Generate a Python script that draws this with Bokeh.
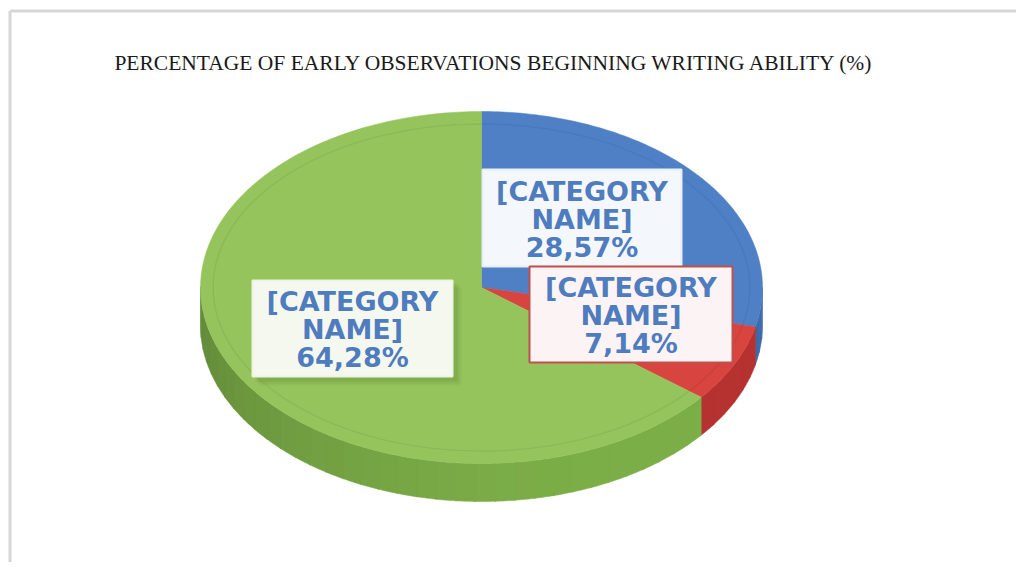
import numpy as np
from bokeh.plotting import figure
from bokeh.models import Range1d
from bokeh.core.properties import value
from bokeh.embed import file_html
from bokeh.resources import INLINE

# ---- data ----
title_text = "PERCENTAGE OF EARLY OBSERVATIONS BEGINNING WRITING ABILITY (%)"
categories = ["[CATEGORY NAME]", "[CATEGORY NAME]", "[CATEGORY NAME]"]
values = [28.57, 7.14, 64.28]
value_labels = ["28,57%", "7,14%", "64,28%"]
top_colors = ["#4f80c6", "#d8443f", "#95c45c"]
side_colors = ["#3c69aa", "#b63230", "#7cae48"]

W, H = 1016, 562
p = figure(width=W, height=H, x_range=Range1d(0, W), y_range=Range1d(H, 0),
           output_backend="svg", toolbar_location=None, min_border=0,
           x_axis_type=None, y_axis_type=None)
p.grid.visible = False
p.outline_line_color = None
p.background_fill_color = "white"
p.border_fill_color = "white"

# frame lines (left / top, as in the reference crop)
p.line([9.5, 9.5], [H, 10.5], line_color="#d6d6d6", line_width=3)
p.line([9.5, W], [10.5, 10.5], line_color="#d6d6d6", line_width=3)

# ---- pie geometry (screen coords, y downward) ----
cx, cy, rx, ry, depth = 481, 287, 281, 176, 38
vals = np.array(values, dtype=float)
fr = vals / vals.sum()
edges = -90 + np.concatenate([[0], np.cumsum(fr) * 360])


def shade(hexcol, f):
    h = hexcol.lstrip("#")
    r, g, b = (int(h[i:i + 2], 16) for i in (0, 2, 4))
    return "#%02x%02x%02x" % tuple(max(0, min(255, int(c * f))) for c in (r, g, b))


# sides (visible for angles 0..180)
sx, sy, sc = [], [], []
for i in range(len(vals)):
    a0, a1 = edges[i], edges[i + 1]
    for off in (0, 360, -360):
        b0, b1 = max(a0 + off, 0), min(a1 + off, 180)
        if b1 > b0:
            nb = max(1, int((b1 - b0) / 4))
            bounds = np.linspace(b0, b1, nb + 1)
            for k in range(nb):
                t = np.radians(np.linspace(bounds[k], bounds[k + 1] + 0.3, 8))
                xs = cx + rx * np.cos(t)
                ys = cy + ry * np.sin(t)
                mid = (bounds[k] + bounds[k + 1]) / 2
                f = 1.0 - 0.22 * max(0.0, (mid - 70) / 110) ** 1.5
                sx.append(list(xs) + list(xs[::-1]))
                sy.append(list(ys) + list((ys + depth)[::-1]))
                sc.append(shade(side_colors[i], f))
p.patches(sx, sy, fill_color=sc, line_color=sc, line_width=0.5)

# top faces
tx, ty = [], []
for i in range(len(vals)):
    t = np.radians(np.linspace(edges[i], edges[i + 1], 120))
    tx.append([cx] + list(cx + rx * np.cos(t)))
    ty.append([cy] + list(cy + ry * np.sin(t)))
p.patches(tx, ty, fill_color=top_colors, line_color=top_colors, line_width=0.5)

# subtle bevel ring
p.ellipse(x=cx, y=cy, width=2 * rx * 0.955, height=2 * ry * 0.93,
          fill_color=None, line_color="#000000", line_alpha=0.06, line_width=1.5)

# ---- labels ----
boxes = [  # left, right, top, bottom, fill, border
    (482, 681, 169, 266, "#f4f7fb", "#e8eef7"),
    (529, 732, 266, 362, "#fcf4f4", "#c0504d"),
    (252, 452, 280, 376, "#f5f8ef", "#eef3e4"),
]
# soft shadow for the green box
l, r, t_, b, _, _ = boxes[2]
for d, a in ((9, 0.08), (7, 0.1), (5, 0.12)):
    p.quad(left=l + d - 2, right=r + d, top=t_ + d - 2, bottom=b + d, fill_color="#4f7a2c",
           fill_alpha=a, line_color=None)
for (l, r, t_, b, fc, lc) in boxes:
    p.quad(left=l, right=r, top=t_, bottom=b, fill_color=fc, line_color=lc,
           line_width=2)

for i, (l, r, t_, b, _, _) in enumerate(boxes):
    lines = categories[i].split(" ") + [value_labels[i]]
    xc = (l + r) / 2
    y0 = (t_ + b) / 2 - 28
    for k, s in enumerate(lines):
        p.text(x=[xc], y=[y0 + 28 * k + 1], text=[s], text_align="center",
               text_baseline="middle", text_font=value("DejaVu Sans"),
               text_font_style="bold", text_font_size="27px", text_color="#4f7cbe")

# title
p.text(x=[494], y=[62], text=[title_text], text_align="center", text_baseline="middle",
       text_font=value("Liberation Serif"), text_font_size="21.5px", text_color="#1a1a1a")

open("out.html", "w").write(file_html(p, INLINE))
